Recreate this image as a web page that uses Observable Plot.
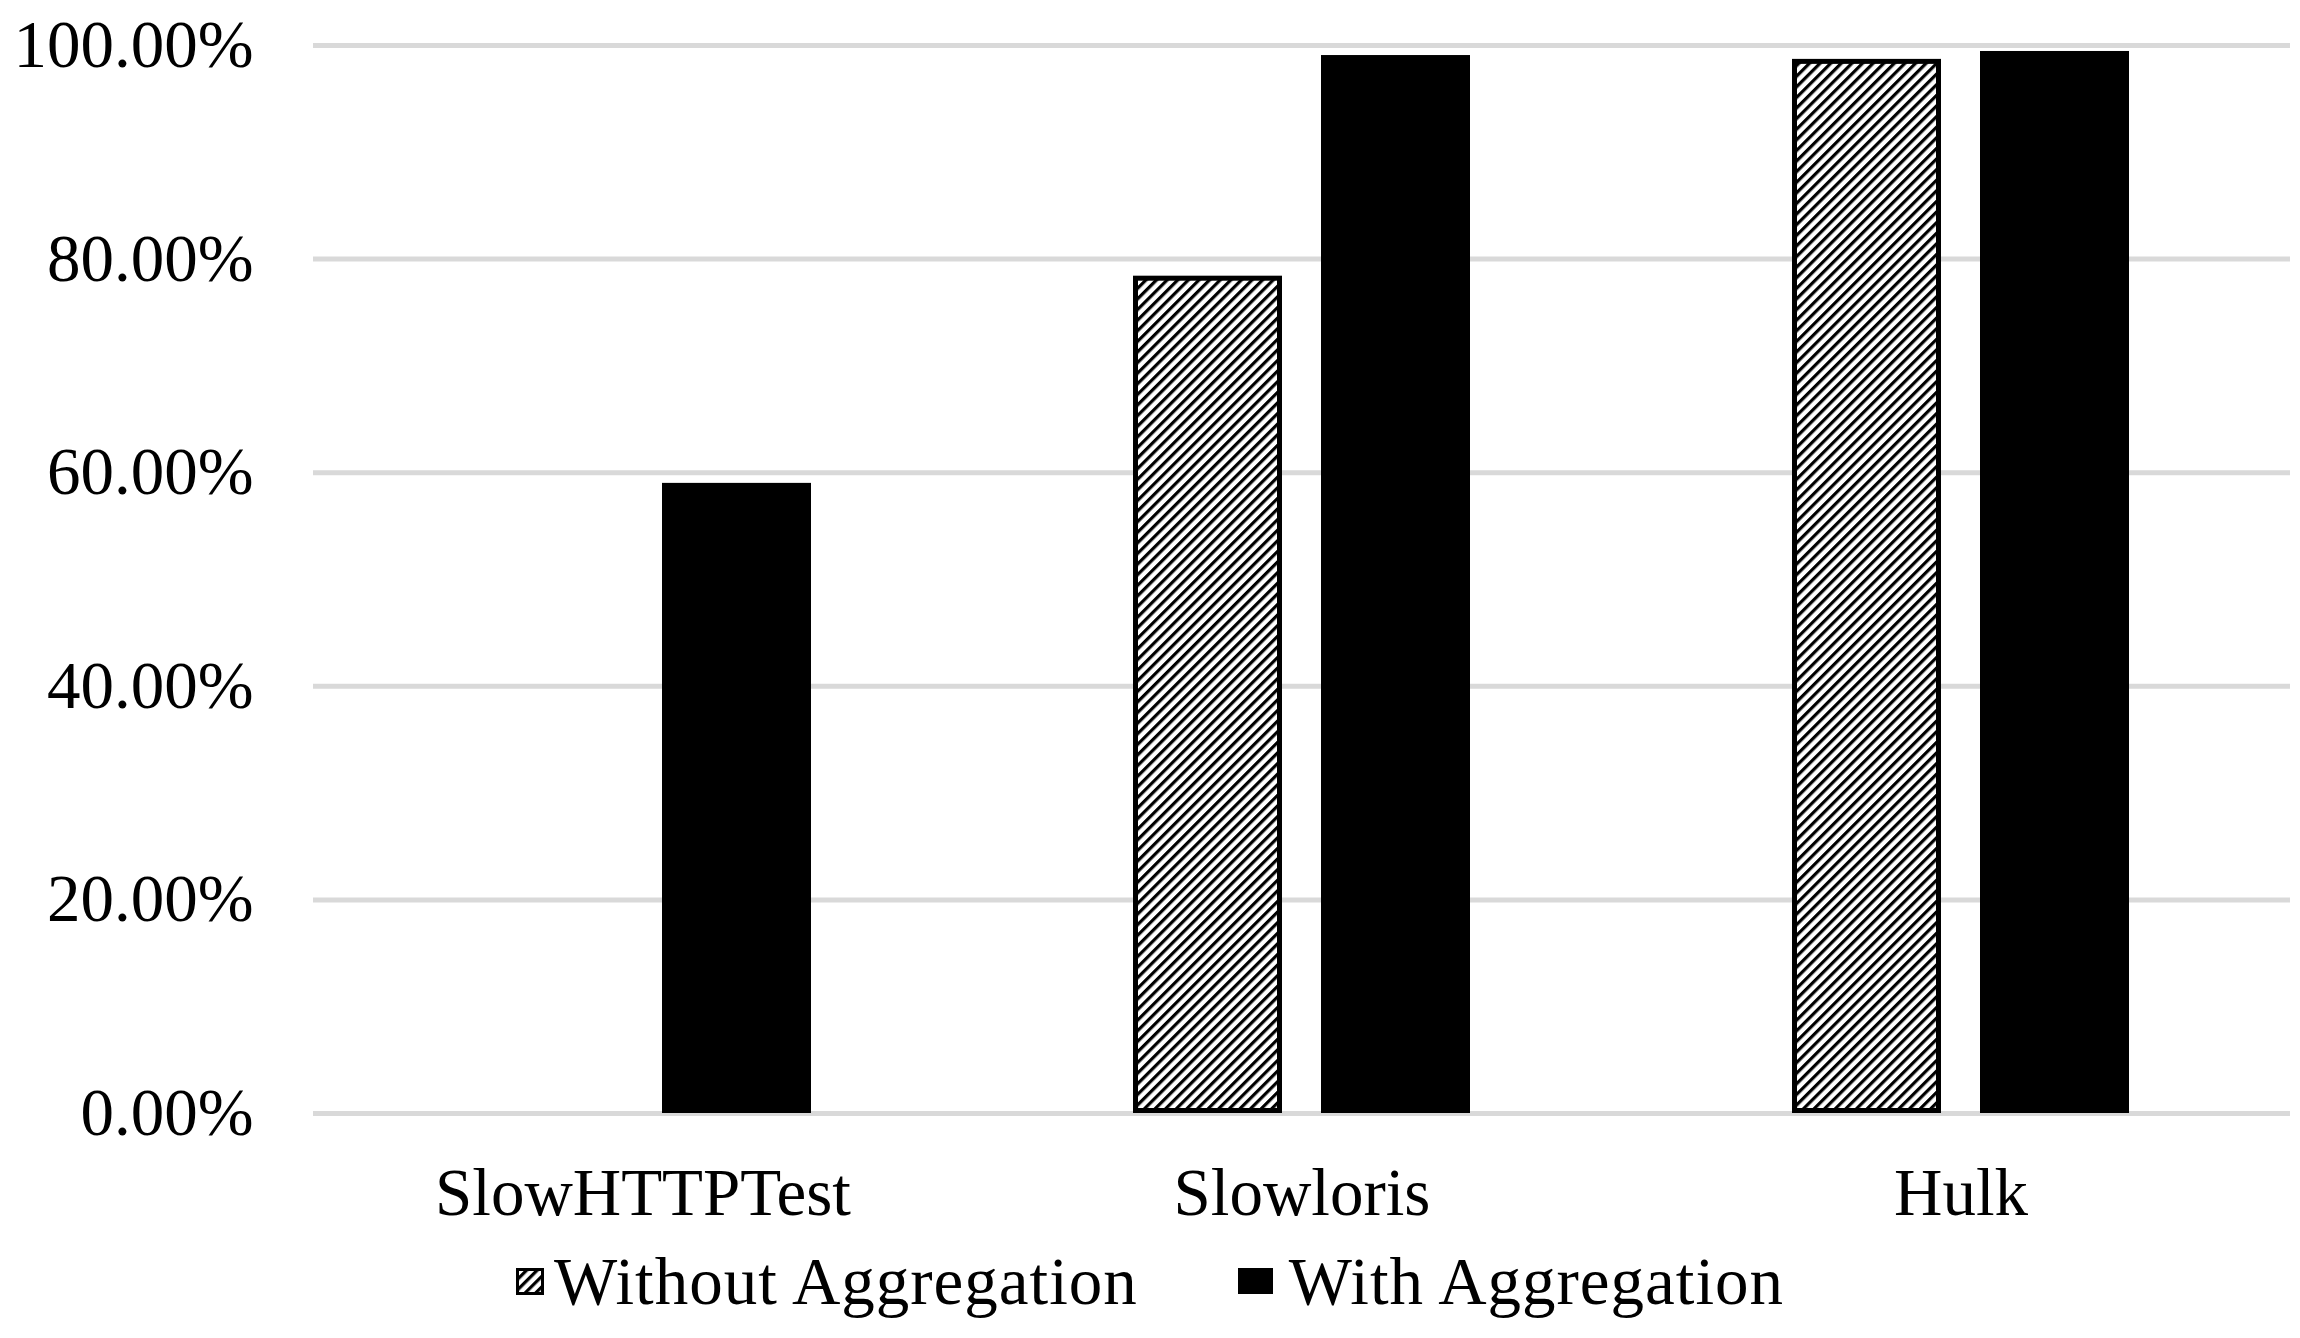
<!DOCTYPE html>
<html>
<head>
<meta charset="utf-8">
<script src="https://cdn.jsdelivr.net/npm/d3@7"></script>
<script src="https://cdn.jsdelivr.net/npm/@observablehq/plot@0.6"></script>
<style>
html, body { margin: 0; padding: 0; background: #fff; }
body { width: 2300px; height: 1338px; overflow: hidden; font-family: "Liberation Serif", "Times New Roman", serif; }
#legend { width: 2300px; height: 98px; box-sizing: border-box; padding-bottom: 16px; display: flex; justify-content: center; align-items: center; font-size: 67px; line-height: 1; letter-spacing: 1px; color: #000; }
.item { display: flex; align-items: center; }
.item svg { display: block; }
</style>
</head>
<body>
<svg width="0" height="0" style="position:absolute">
  <defs>
    <pattern id="hatch" patternUnits="userSpaceOnUse" width="7.5" height="7.5" patternTransform="rotate(45)">
      <rect width="7.5" height="7.5" fill="#fff"></rect>
      <rect width="3.2" height="7.5" fill="#000"></rect>
    </pattern>
  </defs>
</svg>
<div id="chart"></div>
<div id="legend"></div>
<script>
const categories = ["SlowHTTPTest", "Slowloris", "Hulk"];
const seriesNames = ["Without Aggregation", "With Aggregation"];
const withoutAggregation = [0, 78.4, 98.7];
const withAggregation = [59.0, 99.06, 99.44];

const table = categories.flatMap((c, i) => [
  {category: c, series: seriesNames[0], value: withoutAggregation[i]},
  {category: c, series: seriesNames[1], value: withAggregation[i]}
]);

const chart = Plot.plot({
  width: 2300,
  height: 1240,
  marginLeft: 312,
  marginRight: 9,
  marginTop: 45,
  marginBottom: 127,
  style: {fontFamily: "Liberation Serif", fontSize: "67px", color: "#000", background: "#fff"},
  fx: {domain: categories, padding: 0, label: null, axis: "bottom", tickSize: 0, tickPadding: 54},
  x: {domain: seriesNames, paddingInner: 0.206, paddingOuter: 0.849, axis: null},
  y: {domain: [0, 100], ticks: 5, tickFormat: d => d.toFixed(2) + "%", tickSize: 0, tickPadding: 60, label: null},
  marks: [
    Plot.ruleY(d3.ticks(0, 100, 5), {stroke: "#d9d9d9", strokeWidth: 5}),
    Plot.barY(table.filter(d => d.series === seriesNames[0] && d.value > 0), {
      fx: "category", x: "series", y: "value",
      fill: "url(#hatch)", stroke: "#000", strokeWidth: 5, inset: 2.5
    }),
    Plot.barY(table.filter(d => d.series === seriesNames[1] && d.value > 0), {
      fx: "category", x: "series", y: "value",
      fill: "#000", stroke: "#000", strokeWidth: 5, inset: 2.5
    })
  ]
});
document.getElementById("chart").appendChild(chart);

const legend = document.getElementById("legend");
legend.innerHTML =
  `<span class="item"><svg width="28" height="27"><rect x="1.5" y="1.5" width="25" height="24" fill="url(#hatch)" stroke="#000" stroke-width="3"></rect></svg><span style="margin-left:10px">${seriesNames[0]}</span></span>` +
  `<span class="item" style="margin-left:100px"><svg width="35" height="26"><rect width="35" height="26" fill="#000"></rect></svg><span style="margin-left:16px">${seriesNames[1]}</span></span>`;
</script>
</body>
</html>
